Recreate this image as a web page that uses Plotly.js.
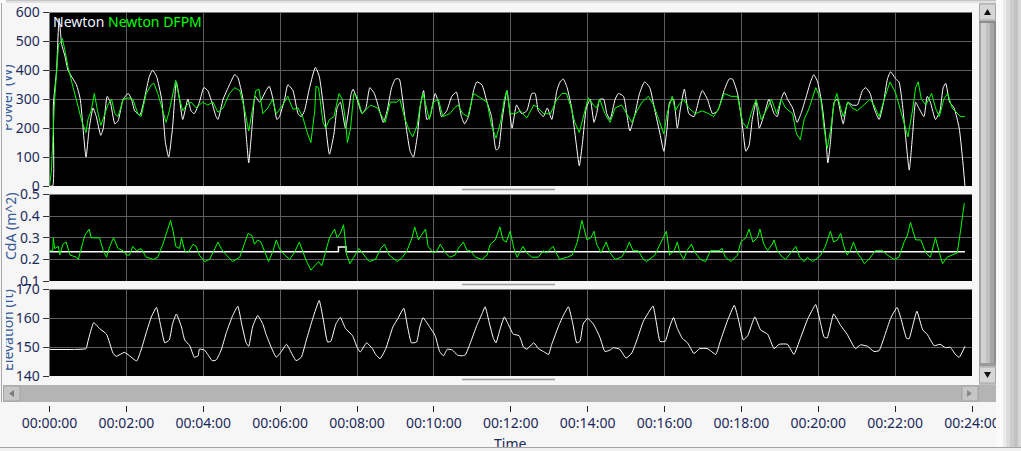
<!DOCTYPE html>
<html>
<head>
<meta charset="utf-8">
<script src="https://cdn.plot.ly/plotly-3.0.1.min.js"></script>
<style>
html,body{margin:0;padding:0;background:#f0f0f0;}
#wrap{position:relative;width:1021px;height:451px;overflow:hidden;background:#f0f0f0;}
#chart{position:absolute;left:0;top:0;width:1021px;height:447px;}
.ov{position:absolute;}
</style>
</head>
<body>
<div id="wrap">
  <div id="chart"></div>
  <div class="ov" style="left:0;top:0;width:6px;height:188px;background:#f6f6f6"></div>
  <div class="ov" style="left:0;top:283px;width:6px;height:102px;background:#f6f6f6"></div>
  <div class="ov" style="left:1px;top:3px;width:1px;height:399px;background:#a8a8a8"></div>
  <div class="ov" style="left:0;top:447px;width:1021px;height:4px;background:#f0f0f0;border-top:1px solid #a4a4a4;box-sizing:border-box"></div>
</div>
<script>
// ---------------- DATA ----------------
const timeTickSeconds = [0,120,240,360,480,600,720,840,960,1080,1200,1320,1440];
const timeTickLabels = ["00:00:00","00:02:00","00:04:00","00:06:00","00:08:00","00:10:00","00:12:00","00:14:00","00:16:00","00:18:00","00:20:00","00:22:00","00:24:00"];

const powerTickVals = [0,100,200,300,400,500,600];
const cdaTickVals = [0.1,0.2,0.3,0.4,0.5];
const elevTickVals = [140,150,160,170];

// Power - Newton (white)
const powerNewtonT = [0,5,6,11,15,19,24,29,42,48,57,62,68,73,80,84,90,95,102,107,115,123,128,133,141,148,156,161,167,175,181,186,192,198,203,208,216,221,226,234,241,247,252,260,263,271,281,289,294,302,308,311,316,321,328,338,343,349,355,359,367,372,380,388,393,398,406,415,421,429,437,
444,449,454,462,471,474,480,488,494,500,507,514,521,527,534,540,546,550,557,563,568,574,579,584,589,594,602,607,612,620,628,635,638,643,648,654,662,667,675,683,690,697,701,706,714,722,729,737,745,753,758,763,771,777,784,792,797,802,808,815,822,827,832,838,844,850,854,859,865,870,875,883,888,896,901,906,914,921,929,937,945,953,
959,964,968,974,980,985,991,998,1006,1014,1019,1027,1035,1043,1053,1061,1066,1074,1082,1087,1092,1097,1103,1108,1116,1123,1131,1136,1142,1147,1152,1160,1167,1173,1180,1188,1193,1199,1206,1212,1215,1219,1225,1230,1235,1239,1246,1253,1261,1269,1274,1281,1287,1295,1302,1308,1313,1321,1326,1331,1336,1342,1347,1352,1357,1365,1370,1375,1383,1390,1395,1399,1405,1412,1420,1425,1429];
const powerNewton = [0,0,280,400,580,490,450,400,350,300,100,200,270,240,175,200,310,290,215,225,300,320,300,260,245,300,380,400,380,300,150,100,200,360,300,230,300,260,250,290,340,330,300,240,230,300,350,385,375,300,150,80,200,310,290,330,345,300,230,240,300,350,330,250,240,260,340,410,380,250,110,
180,270,290,200,320,335,300,250,270,340,320,270,220,260,340,370,370,320,200,120,100,170,280,330,230,240,320,290,240,260,310,325,300,240,215,240,330,360,350,290,240,125,130,220,330,200,280,250,260,320,320,260,240,270,230,330,360,370,340,270,150,70,150,270,300,220,250,300,300,250,230,300,320,310,250,190,250,320,360,340,260,180,
120,200,290,300,200,270,335,250,240,300,330,300,250,260,330,370,370,320,200,120,140,230,290,200,250,300,250,240,300,325,300,270,220,250,300,360,385,360,280,160,80,150,290,300,250,215,290,280,280,330,340,320,270,230,290,370,395,370,360,290,180,55,170,290,270,240,310,290,230,260,340,355,290,270,200,100,0];

// Power - Newton DFPM (green)
const powerDfpmT = [0,3,6,8,12,14,17,20,24,29,37,47,51,57,60,65,70,75,80,85,91,97,102,107,115,123,130,138,143,151,159,163,169,177,182,187,193,197,203,208,214,221,229,239,247,255,263,271,281,289,297,304,311,317,322,327,333,341,348,354,364,372,380,388,395,403,408,414,416,420,427,431,437,
444,452,457,462,465,470,475,480,488,501,512,519,524,532,542,547,555,563,567,574,578,583,589,593,599,607,614,625,632,638,645,653,662,675,683,690,697,704,710,714,719,727,735,745,756,763,771,782,792,800,807,813,820,827,833,841,849,854,859,867,875,883,893,901,909,917,925,935,943,951,
959,964,972,977,982,990,998,1008,1019,1029,1037,1045,1053,1064,1074,1082,1089,1095,1103,1111,1121,1127,1135,1142,1149,1160,1166,1172,1178,1186,1196,1204,1209,1214,1219,1225,1229,1235,1239,1246,1253,1261,1271,1281,1287,1295,1303,1312,1321,1329,1336,1340,1347,1352,1356,1361,1368,1377,1383,1389,1396,1402,1409,1417,1422,1429];
const powerDfpm = [0,50,200,300,420,490,495,510,470,410,340,250,220,185,230,260,320,260,210,240,280,300,250,240,300,305,300,250,240,320,350,355,320,260,220,260,330,365,300,260,280,290,270,290,280,290,255,270,320,340,330,270,190,260,330,335,250,270,300,250,280,310,265,270,240,180,150,260,345,340,220,200,230,
240,320,300,230,150,200,320,310,250,280,270,240,220,290,290,300,230,185,170,210,270,320,260,230,290,300,240,250,270,280,250,240,320,300,290,210,165,220,300,330,250,250,260,235,280,270,250,250,300,320,320,280,220,185,240,305,280,270,300,250,220,270,280,250,220,260,290,310,280,230,
180,250,310,260,280,300,270,250,260,250,240,270,320,310,310,220,200,250,300,230,270,300,250,300,270,250,180,160,230,270,340,300,200,130,190,290,320,270,240,290,270,260,280,300,280,240,300,360,320,260,200,170,260,340,360,300,280,320,270,240,300,320,270,250,240,240];

// CdA - Newton (white)
const cdaNewtonT = [0,450,451,462,463,1429];
const cdaNewton = [0.235,0.235,0.257,0.257,0.235,0.235];

// CdA - Newton DFPM (green)
const cdaDfpmT = [0,5,6,8,14,16,21,26,32,42,45,50,55,62,65,71,78,84,89,94,100,107,115,120,125,130,136,143,151,162,169,177,185,189,193,197,203,206,211,216,224,229,234,242,250,258,263,268,276,286,297,304,310,316,320,325,330,338,342,349,354,359,367,375,382,390,395,400,408,414,420,425,432,437,
445,449,454,459,464,469,475,483,491,499,509,517,523,530,543,551,558,566,570,576,580,587,591,599,605,610,618,625,633,638,646,652,657,665,675,683,688,696,703,708,713,719,725,730,739,745,753,763,771,776,786,796,808,816,824,831,839,845,850,854,861,869,875,883,893,901,905,911,919,927,932,940,945,953,
963,968,975,980,984,990,995,1002,1008,1016,1024,1032,1040,1045,1050,1055,1064,1074,1079,1087,1092,1098,1105,1109,1115,1121,1128,1131,1136,1144,1149,1157,1165,1171,1178,1183,1191,1196,1204,1211,1219,1224,1230,1235,1240,1245,1250,1255,1261,1266,1272,1279,1289,1300,1308,1318,1326,1334,1339,1344,1352,1360,1368,1375,1383,1391,1394,1401,1409,1417,1422,1428];
const cdaDfpm = [0.24,0.24,0.30,0.25,0.26,0.22,0.27,0.28,0.22,0.21,0.20,0.25,0.31,0.34,0.30,0.30,0.30,0.24,0.21,0.26,0.30,0.25,0.24,0.22,0.22,0.26,0.24,0.25,0.21,0.20,0.21,0.27,0.34,0.38,0.33,0.26,0.25,0.30,0.24,0.23,0.27,0.26,0.22,0.19,0.20,0.25,0.28,0.25,0.22,0.19,0.21,0.27,0.32,0.31,0.27,0.29,0.28,0.22,0.19,0.24,0.29,0.25,0.22,0.20,0.23,0.28,0.24,0.20,0.15,0.17,0.19,0.17,0.24,0.30,
0.34,0.30,0.32,0.36,0.22,0.18,0.21,0.25,0.22,0.19,0.20,0.25,0.27,0.22,0.19,0.21,0.24,0.30,0.35,0.29,0.31,0.34,0.26,0.23,0.24,0.27,0.23,0.21,0.22,0.25,0.28,0.24,0.24,0.21,0.20,0.22,0.27,0.29,0.35,0.29,0.28,0.33,0.25,0.21,0.26,0.23,0.21,0.21,0.24,0.23,0.26,0.20,0.21,0.22,0.28,0.38,0.29,0.30,0.33,0.27,0.23,0.28,0.23,0.20,0.21,0.25,0.28,0.24,0.24,0.20,0.19,0.21,0.22,0.27,
0.33,0.22,0.24,0.28,0.23,0.20,0.24,0.27,0.23,0.20,0.19,0.24,0.24,0.24,0.25,0.21,0.19,0.22,0.28,0.30,0.34,0.28,0.30,0.34,0.27,0.24,0.27,0.29,0.24,0.21,0.20,0.23,0.26,0.21,0.19,0.21,0.19,0.20,0.22,0.26,0.33,0.28,0.29,0.32,0.26,0.22,0.24,0.28,0.23,0.21,0.18,0.20,0.24,0.24,0.22,0.20,0.21,0.28,0.31,0.37,0.29,0.29,0.23,0.21,0.30,0.21,0.18,0.21,0.22,0.23,0.33,0.46];

// Elevation - Newton (white)
const elevT = [0,37,57,60,69,78,89,99,104,117,125,136,143,151,159,167,173,180,187,192,198,206,211,219,226,232,234,242,247,254,260,268,276,286,294,300,307,311,317,325,333,338,346,354,362,370,380,385,393,401,411,421,427,434,
439,447,454,462,473,480,485,495,504,509,516,525,536,544,553,559,565,573,578,583,594,602,609,615,621,629,637,644,649,657,667,675,680,687,693,697,703,710,716,724,733,740,745,756,763,771,779,784,795,802,810,817,823,828,833,840,849,859,867,875,880,890,900,909,917,927,935,942,947,953,
961,968,974,980,988,996,1006,1015,1027,1040,1047,1058,1069,1076,1083,1090,1101,1110,1121,1131,1139,1152,1162,1172,1183,1191,1196,1204,1209,1214,1224,1235,1245,1258,1266,1277,1287,1295,1303,1313,1323,1329,1338,1342,1347,1354,1363,1370,1381,1390,1399,1406,1414,1420,1429];
const elev = [149.2,149.2,149.5,152,158.5,156.5,154.5,148,146.8,148.2,147,145.2,149,155,160.5,163.8,158,151.5,152.5,158,161.5,157,152.5,150.5,146.5,147,149.3,149,147.5,145.3,145.5,149,155,161,164.2,158,151.5,150.3,157,161,158,154.5,150,146.5,148.5,151,147,145.3,146.5,152.5,160,166.2,160,151.8,
152,158,160.3,156.5,154,150,148.3,151.5,149.5,147.5,146,149.5,157,160,163.5,157,151.5,151.8,157,160.2,156.8,154,148.5,147,149.3,149,147.2,147,147.3,151.5,157.5,161.5,164,158,153,151.5,156,160.5,158,154.5,154,150,149.3,151.5,149.5,148.5,147.5,151,157.5,161,164,158,151.5,152,158,160,158,153.5,148.5,149,149.8,149.3,146.2,148,152.5,159,162,164.3,159,152,
152,157,160.3,156.5,153,151.5,147.8,149.5,149.5,147.5,152,159,164.5,159,152.5,154,160.5,156,154.5,149.5,151,151,147.5,153,159.5,163,164.8,158,153.5,153.2,161.5,157.5,154.5,149.5,150.8,150.3,148.5,148.8,153.5,160,163.8,160,153,153,157,162.5,156,154.5,150.5,151,149.8,150,147.5,146.5,150.3];

// ---------------- LAYOUT HELPERS ----------------
const W = 1021, H = 447;
const px = x => x / W;
const py = y => 1 - y / H;
const FONT = 'Noto Sans, Open Sans, DejaVu Sans, sans-serif';
const TXT = '#1c2a5a';
const GRID = '#5e5e5e';

function rect(x0, y0, x1, y1, fill, lc) {
  return {type:'rect', xref:'paper', yref:'paper', x0:px(x0), x1:px(x1), y0:py(y1), y1:py(y0),
    fillcolor:fill, line:{width: lc ? 1 : 0, color: lc || fill}, layer:'above'};
}
function poly(pts, fill) {
  const d = pts.map((p, i) => (i ? 'L' : 'M') + px(p[0]) + ',' + py(p[1])).join(' ') + ' Z';
  return {type:'path', xref:'paper', yref:'paper', path:d, fillcolor:fill, line:{width:0}, layer:'above'};
}
function hline(x0, x1, y, color, w) {
  return {type:'line', xref:'paper', yref:'paper', x0:px(x0), x1:px(x1), y0:py(y), y1:py(y), line:{color:color, width:w||1}, layer:'above'};
}

const xBase = {
  domain:[px(49.5), px(972)], range:[0,1440], tickmode:'array', tickvals:timeTickSeconds,
  showticklabels:false, ticks:'', showgrid:true, gridcolor:GRID, gridwidth:1, zeroline:false, showline:false, fixedrange:true
};
function yAx(domain, range, vals, txt) {
  return {domain:domain, range:range, tickmode:'array', tickvals:vals, ticktext:txt,
    ticks:'outside', ticklen:6, tickwidth:1, tickcolor:'#333', showgrid:true, gridcolor:GRID, gridwidth:1,
    zeroline:false, showline:false, tickfont:{family:FONT, size:14, color:TXT}, fixedrange:true};
}

const traces = [
  {x:powerNewtonT, y:powerNewton, name:'Newton', xaxis:'x', yaxis:'y', mode:'lines', line:{color:'#ffffff', width:1, shape:'spline', smoothing:0.5}},
  {x:powerDfpmT, y:powerDfpm, name:'Newton DFPM', xaxis:'x', yaxis:'y', mode:'lines', line:{color:'#00ff00', width:1}},
  {x:cdaNewtonT, y:cdaNewton, name:'Newton', xaxis:'x2', yaxis:'y2', mode:'lines', line:{color:'#ffffff', width:1.5, shape:'hv'}},
  {x:cdaDfpmT, y:cdaDfpm, name:'Newton DFPM', xaxis:'x2', yaxis:'y2', mode:'lines', line:{color:'#00ff00', width:1}},
  {x:elevT, y:elev, name:'Elevation', xaxis:'x3', yaxis:'y3', mode:'lines', line:{color:'#ffffff', width:1, shape:'spline', smoothing:0.4}},
  {x:[timeTickSeconds[0], timeTickSeconds[timeTickSeconds.length-1]], y:[null,null], xaxis:'x4', yaxis:'y', mode:'lines', hoverinfo:'skip', showlegend:false}
];

const shapes = [
  rect(0, 0, 1021, 1.5, '#c4c4c4'),
  rect(0, 1.5, 1021, 3, '#e2e2e2'),
  hline(462, 555, 189.5, '#9c9c9c', 1.5),
  hline(462, 555, 284.5, '#9c9c9c', 1.5),
  hline(462, 555, 379.5, '#9c9c9c', 1.5),
  rect(3, 385, 996, 402, '#b4b4b4'),
  rect(3.5, 386, 20, 401, '#c6c6c6', '#a2a2a2'),
  poly([[9,393.5],[14,390],[14,397]], '#7a7a7a'),
  rect(962, 386, 978, 401, '#c6c6c6', '#a2a2a2'),
  poly([[972,393.5],[967,390],[967,397]], '#8a8a8a'),
  rect(979, 3, 996, 385, '#c0c0c0'),
  rect(979.5, 4, 995.5, 20, '#d6d6d6', '#a8a8a8'),
  poly([[984,15],[991,15],[987.5,9]], '#111111'),
  rect(979, 21, 981, 366, '#a4a4a4'),
  rect(981, 21, 986, 366, '#d2d2d2'),
  rect(986, 21, 990, 366, '#c0c0c0'),
  rect(990, 21, 994, 366, '#a6a6a6'),
  rect(994, 21, 996, 366, '#8e8e8e'),
  rect(979, 21, 996, 23, '#8c8c8c'),
  rect(979, 363, 996, 366, '#9a9a9a'),
  rect(979.5, 367, 995.5, 383, '#d6d6d6', '#a8a8a8'),
  poly([[984,372],[991,372],[987.5,378]], '#111111'),
  rect(996, 0, 1003, 447, '#fafafa'),
  rect(1003, 0, 1006, 447, '#ececec'),
  rect(1006, 0, 1010, 447, '#dcdcdc'),
  rect(1010, 0, 1014, 447, '#cccccc'),
  rect(1014, 0, 1018, 447, '#c2c2c2'),
  rect(1018, 0, 1021, 447, '#d8d8d8')
];

const annFont = c => ({family:FONT, size:14, color:c});
const annotations = [
  {xref:'paper', yref:'paper', x:px(51), y:py(21), xanchor:'left', yanchor:'middle', showarrow:false,
   text:'<span style="color:#eef2ff">Newton</span> <span style="color:#00ff00">Newton DFPM</span>', font:annFont('#ffffff')},
  {xref:'paper', yref:'paper', x:px(7), y:py(98), xanchor:'center', yanchor:'middle', showarrow:false, textangle:-90, text:'Power (W)', font:annFont('#3a5a96')},
  {xref:'paper', yref:'paper', x:px(10), y:py(226), xanchor:'center', yanchor:'middle', showarrow:false, textangle:-90, text:'CdA (m^2)', font:annFont('#3a5a96')},
  {xref:'paper', yref:'paper', x:px(7), y:py(330), xanchor:'center', yanchor:'middle', showarrow:false, textangle:-90, text:'Elevation (ft)', font:annFont('#3a5a96')},
  {xref:'paper', yref:'paper', x:px(510), y:py(443), xanchor:'center', yanchor:'middle', showarrow:false, text:'Time', font:annFont(TXT)}
];

const layout = {
  width:W, height:H, autosize:false,
  margin:{l:0, r:0, t:0, b:0, pad:0},
  paper_bgcolor:'#f6f6f6', plot_bgcolor:'#000000',
  showlegend:false,
  font:{family:FONT, size:14, color:TXT},
  xaxis:Object.assign({}, xBase, {anchor:'y'}),
  xaxis2:Object.assign({}, xBase, {anchor:'y2'}),
  xaxis3:Object.assign({}, xBase, {anchor:'y3'}),
  xaxis4:{domain:[px(49.5), px(972)], range:[0,1440], anchor:'free', overlaying:'x', position:py(404.5), side:'bottom',
    tickmode:'array', tickvals:timeTickSeconds, ticktext:timeTickLabels, ticks:'outside', ticklen:6, tickwidth:1, tickcolor:'#222',
    showgrid:false, zeroline:false, showline:false, tickfont:{family:FONT, size:14, color:TXT}, fixedrange:true},
  yaxis:yAx([py(186), py(12.5)], [0,600], powerTickVals, powerTickVals.map(String)),
  yaxis2:yAx([py(281), py(194.5)], [0.1,0.5], cdaTickVals, cdaTickVals.map(v => v.toFixed(1))),
  yaxis3:yAx([py(376), py(289.5)], [140,170], elevTickVals, elevTickVals.map(String)),
  shapes:shapes,
  annotations:annotations
};

Plotly.newPlot('chart', traces, layout, {staticPlot:true, displayModeBar:false});
</script>
</body>
</html>
